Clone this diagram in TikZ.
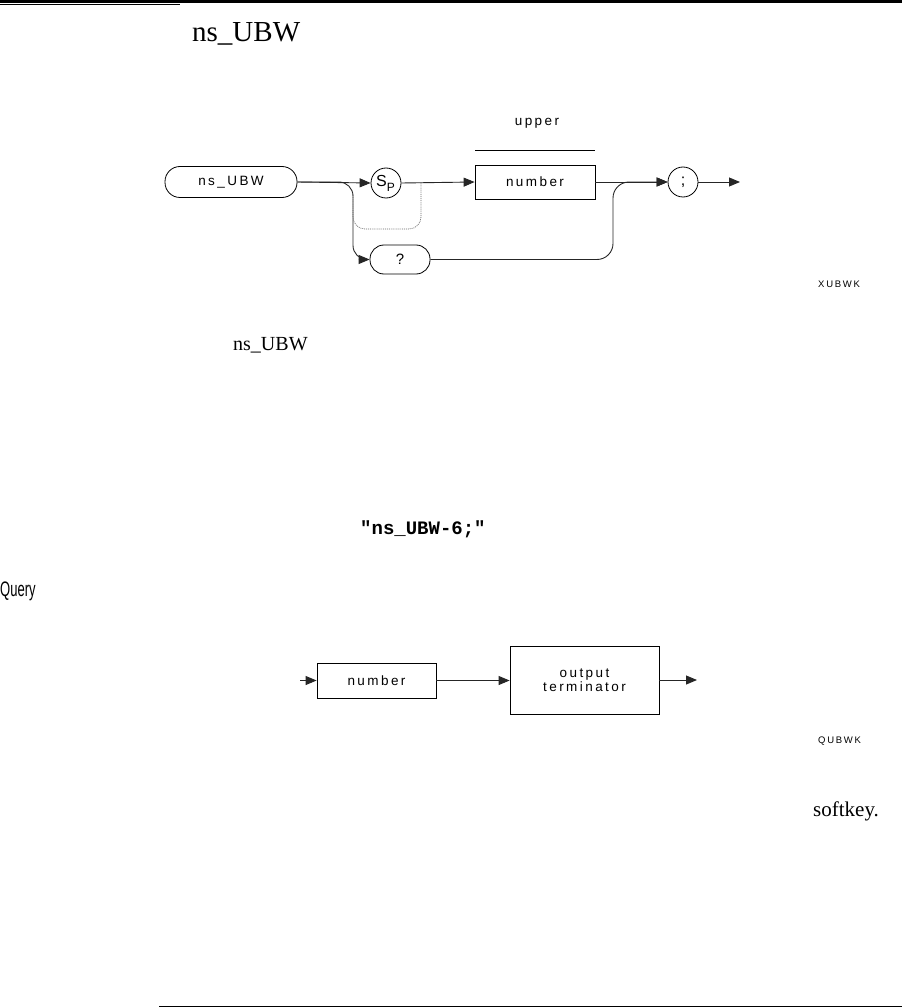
\documentclass[tikz,border=0pt]{standalone}
\usepackage{fontspec}
\setmainfont{Liberation Serif}
\newfontfamily\diagfont[LetterSpace=18]{Liberation Sans}
\newfontfamily\codefont{Liberation Mono}
\newfontfamily\qfont{Liberation Sans}
\usetikzlibrary{arrows.meta}
\tikzset{
  conn/.style={line width=0.9pt, draw=black!85},
  arr/.style={conn, -{Triangle[length=11pt,width=9pt]}},
  dlabel/.style={font=\diagfont\fontsize{13.5}{15}\selectfont, inner sep=0pt},
  rbox/.style={draw, line width=0.8pt, rounded corners=15pt, minimum height=31pt, inner sep=0pt},
  sbox/.style={draw, line width=0.8pt, minimum height=34pt, inner sep=0pt},
  circ/.style={draw, circle, line width=0.8pt, minimum size=30pt, inner sep=0pt},
  fig/.style={font=\diagfont\fontsize{9.5}{11}\selectfont, inner sep=0pt}
}
\begin{document}
\begin{tikzpicture}[x=1pt,y=-1pt]
\useasboundingbox (0,0) rectangle (902,1008);
% rules
\draw[line width=2.6pt] (0,1.3) -- (902,1.3);
\draw[line width=1pt] (0,4.6) -- (180,4.6);
\draw[line width=1pt] (159,1006.5) -- (902,1006.5);
% title
\node[anchor=base west, inner sep=0pt, font=\fontsize{29}{32}\selectfont] (title) at (192,42) {ns\_UBW};

% ---- syntax diagram
\node[rbox, minimum width=132pt, dlabel] (ns) at (231,182) {ns\_UBW};
\node[circ, dlabel] (sp) at (386,183) {\hspace*{-1pt}{\fontsize{16}{16}\selectfont S}\raisebox{-5pt}{\fontsize{12}{12}\selectfont P}};
\node[sbox, minimum width=120pt, dlabel] (num) at (535,182) {number};
\node[circ, dlabel] (semi) at (683,182) {\fontsize{16}{16}\selectfont ;};
\node[rbox, minimum width=60pt, minimum height=29pt, rounded corners=14pt, dlabel] (q) at (400,259.5) {\fontsize{15}{15}\selectfont ?};
\node[dlabel] (upper) at (537,123) {upper};
\coordinate (ul) at (475,150);
\coordinate (ur) at (595,150);
\draw[line width=0.9pt] (ul) -- (ur);
\coordinate (bpA) at (353,195);
\coordinate (bpB) at (421,182);
\coordinate (endA) at (740,182);

\draw[arr] (ns.east) -- (sp.west);
\draw[arr, rounded corners=14pt] (ns.east) -- (353,182) -- (353,259.5) -- (q.west);
\draw[conn, densely dotted, line width=0.7pt, draw=black!60, rounded corners=12pt] (bpA) -- (353,229) -- (421,229) -- (bpB);
\draw[arr] (sp.east) -- (num.west);
\draw[arr] (num.east) -- (semi.west);
\draw[arr, rounded corners=16pt] (q.east) -- (613,259.5) -- (613,182) -- (semi.west);
\draw[arr] (semi.east) -- (endA);
\node[fig, anchor=west] (xubwk) at (818,284) {XUBWK};

% ---- text
\node[anchor=base west, inner sep=0pt, font=\fontsize{20}{22}\selectfont] (ns2) at (233,350) {ns\_UBW};
\node[anchor=base west, inner sep=0pt, font=\codefont\bfseries\fontsize{19}{21}\selectfont] (ex) at (360,534) {"ns\_UBW-6;"};
\node[anchor=base west, inner sep=0pt, font=\qfont\fontsize{21}{23}\selectfont] (query) at (0,596) {\scalebox{0.62}[1]{Query}};
\node[anchor=base west, inner sep=0pt, font=\fontsize{21}{23}\selectfont] (soft) at (813,816) {softkey.};

% ---- query diagram
\coordinate (qin) at (300,680.5);
\node[sbox, minimum width=119pt, minimum height=35pt, dlabel] (num2) at (376.5,680.5) {number};
\node[sbox, minimum width=149pt, minimum height=68pt, dlabel, align=center] (ot) at (584.5,680) {output\\[-1pt]terminator};
\coordinate (qout) at (697,680);
\draw[arr] (qin) -- (num2.west);
\draw[arr] (num2.east) -- (ot.west |- num2.east);
\draw[arr] (ot.east) -- (qout);
\node[fig, anchor=west] (qubwk) at (818,741) {QUBWK};
\end{tikzpicture}
\end{document}
